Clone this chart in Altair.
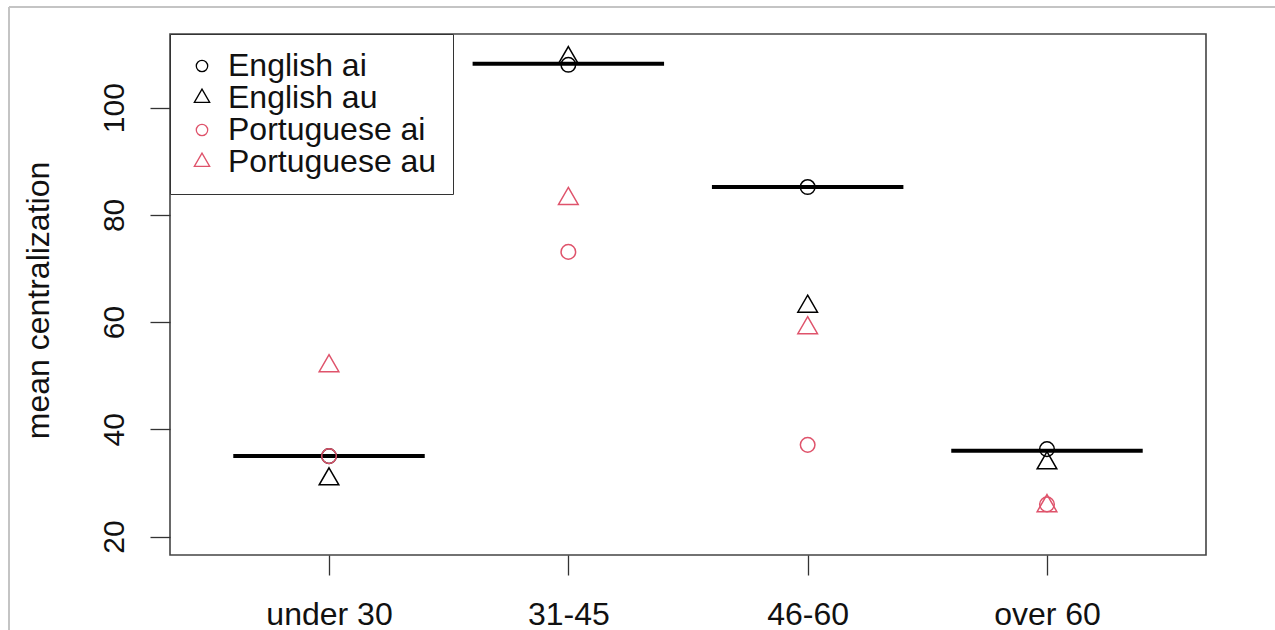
import json
import altair as alt
import pandas as pd

# ---- data ----
groups = ["under 30", "31-45", "46-60", "over 60"]
group_pos = [1, 2, 3, 4]
series_names = ["English ai", "English au", "Portuguese ai", "Portuguese au"]
english_ai = [35.0, 108.0, 85.2, 36.3]
english_au = [30.7, 109.3, 62.9, 33.7]
portuguese_ai = [35.0, 73.1, 37.1, 26.0]
portuguese_au = [51.8, 83.0, 58.9, 25.7]
group_means = [35.0, 108.2, 85.2, 36.0]
y_ticks = [20, 40, 60, 80, 100]

BLACK = "#000000"
PINK = "#DF536B"
TRI = "M0,-1.555L1.347,0.778L-1.347,0.778Z"

rows = []
for name, vals in zip(series_names, [english_ai, english_au, portuguese_ai, portuguese_au]):
    for g, p, v in zip(groups, group_pos, vals):
        rows.append({"series": name, "group": g, "pos": p, "value": v})
points_df = pd.DataFrame(rows)
means_df = pd.DataFrame({"group": groups, "pos": group_pos, "mean": group_means})

xscale = alt.Scale(domain=[0.3356, 4.6644], nice=False, zero=False)
yscale = alt.Scale(domain=[16.55, 113.75], nice=False, zero=False)

label_expr = json.dumps(groups) + "[datum.value - 1]"

x_axis = alt.Axis(values=group_pos, labelExpr=label_expr, title=None, grid=False,
                  domain=False, tickSize=20, tickColor="#333", tickWidth=1.3,
                  labelFontSize=32, labelPadding=24, labelBaseline="top",
                  labelColor="#111", labelFont="Liberation Sans")
y_axis = alt.Axis(values=y_ticks, title="mean centralization", grid=False,
                  domain=False, tickSize=20, tickColor="#333", tickWidth=1.3,
                  labelFontSize=30, labelAngle=270, labelAlign="center",
                  labelBaseline="alphabetic", labelPadding=27, labelColor="#111",
                  labelFont="Liberation Sans",
                  titleFontSize=32, titleFontWeight="normal", titleAngle=270,
                  titleX=-122, titleY=266, titleAlign="center",
                  titleBaseline="alphabetic", titleColor="#111",
                  titleFont="Liberation Sans")

rules = alt.Chart(means_df).transform_calculate(
    x1="datum.pos - 0.4", x2="datum.pos + 0.4"
).mark_rule(color="black", strokeWidth=4, strokeCap="butt").encode(
    x=alt.X("x1:Q", scale=xscale, axis=x_axis),
    x2="x2:Q",
    y=alt.Y("mean:Q", scale=yscale, axis=y_axis),
)

pts = alt.Chart(points_df).mark_point(filled=False, strokeWidth=1.5, size=213, opacity=1).encode(
    x=alt.X("pos:Q", scale=xscale, axis=x_axis),
    y=alt.Y("value:Q", scale=yscale, axis=y_axis),
    color=alt.Color("series:N", sort=series_names,
                    scale=alt.Scale(domain=series_names, range=[BLACK, BLACK, PINK, PINK]),
                    title=None),
    shape=alt.Shape("series:N", sort=series_names,
                    scale=alt.Scale(domain=series_names, range=["circle", TRI, "circle", TRI]),
                    title=None),
)

frame_top = alt.Chart(means_df).mark_rule(color="#c4c4c4", strokeWidth=2).encode(
    x=alt.value(-161), x2=alt.value(1105), y=alt.value(-27))
frame_left = alt.Chart(means_df).mark_rule(color="#c4c4c4", strokeWidth=2).encode(
    x=alt.value(-161), y=alt.value(-27), y2=alt.value(596))

chart = alt.layer(frame_top, frame_left, rules, pts).properties(
    width=1036, height=521,
    autosize=alt.AutoSizeParams(type="none"),
    padding={"left": 170, "top": 34, "right": 69, "bottom": 75},
    background="white",
).configure(
    font="Liberation Sans"
).configure_view(
    stroke="#444", strokeWidth=1.6
).configure_legend(
    orient="top-left", offset=0, padding=16, rowPadding=0,
    labelFontSize=32, labelFont="Liberation Sans", labelColor="#111",
    symbolSize=130, symbolStrokeWidth=1.3, symbolOffset=0, labelOffset=10,
    strokeColor="#333", fillColor="white", labelLimit=400,
)

chart.save("out.html", embed_options={"renderer": "svg", "actions": False})
